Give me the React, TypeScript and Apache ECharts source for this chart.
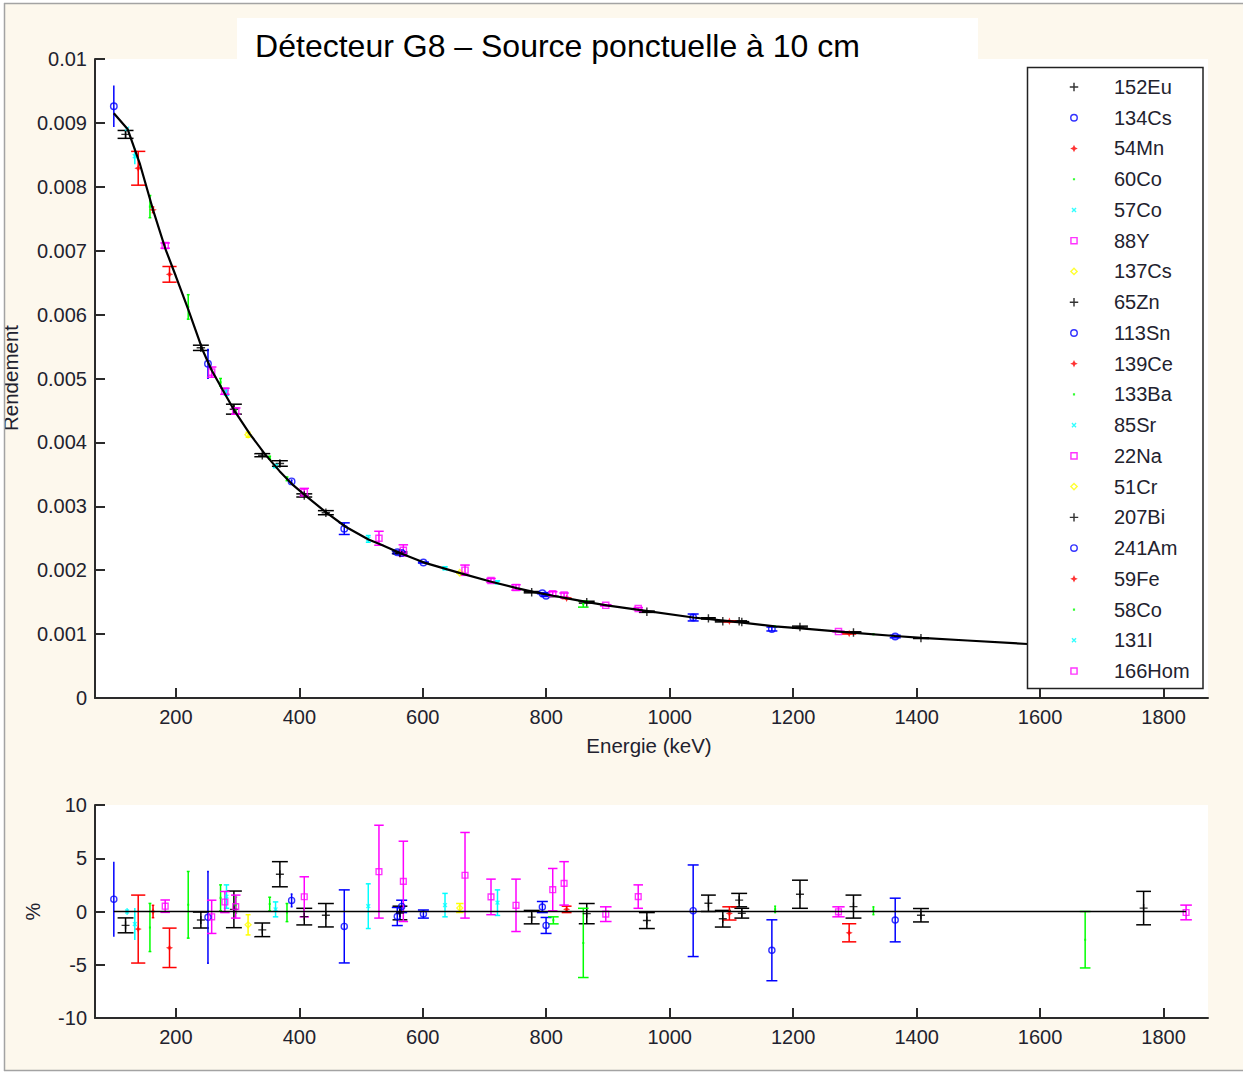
import React, { useEffect, useRef } from "react";
import * as echarts from "echarts";

// [energy keV, efficiency, residual %, uncertainty %]
type Pt = [number, number, number, number];

const nuclideNames = [
  "152Eu", "134Cs", "54Mn", "60Co", "57Co", "88Y", "137Cs", "65Zn", "113Sn", "139Ce",
  "133Ba", "85Sr", "22Na", "51Cr", "207Bi", "241Am", "59Fe", "58Co", "131I", "166Hom",
];

const eu152: Pt[] = [
  [118.5, 0.00882, -1.3, 0.7], [240.5, 0.00548, -0.8, 0.75], [294, 0.00452, 0.2, 1.72],
  [340, 0.0038, -1.72, 0.64], [368.5, 0.00367, 3.5, 1.18], [408, 0.00317, -0.48, 0.78],
  [443, 0.0029, -0.35, 1.1], [776.4, 0.001656, -0.53, 0.63], [865.6, 0.0015, -0.2, 0.95],
  [963, 0.00135, -0.85, 0.75], [1086, 0.0012, -0.68, 0.78], [1112.5, 0.0012, 1.07, 0.63],
  [1211, 0.00111, 1.62, 1.32], [1297.7, 0.001025, 0.46, 1.08], [1407, 0.000937, -0.35, 0.63],
];
const cs134: Pt[] = [
  [472.8, 0.00265, -1.4, 3.43], [558.7, 0.00228, -0.47, 0.85], [565.8, 0.00227, 0.48, 0.58],
  [601, 0.00212, -0.24, 0.38], [793.7, 0.00164, 0.42, 0.52], [799.7, 0.0016, -1.31, 0.75],
  [1038, 0.00126, 0.07, 4.3], [1165.5, 0.00108, -3.64, 2.86], [1365.3, 0.000962, -0.8, 2.05],
];
const mn54: Pt[] = [[833, 0.00156, 0.2, 0.3]];
const co60: Pt[] = [[1170.8, 0.00112, 0.2, 0.3], [1330, 0.000998, 0.07, 0.37]];
const co57: Pt[] = [[121, 0.00891, 0, 0.3], [133.5, 0.00848, -1.18, 1.5]];
const y88: Pt[] = [[896.4, 0.00145, -0.25, 0.69], [1836.5, 0.00073, -0.09, 0.69]];
const cs137: Pt[] = [[660, 0.00196, 0.33, 0.42]];
const zn65: Pt[] = [[1116.8, 0.00119, -0.16, 0.46]];
const sn113: Pt[] = [[252, 0.00523, -0.55, 4.3], [387.5, 0.00339, 1.04, 0.6]];
const ce139: Pt[] = [[163, 0.00764, 0, 0.58]];
const ba133: Pt[] = [
  [158, 0.00769, -1.5, 2.26], [220, 0.00612, 0.63, 3.13], [272.4, 0.00494, 1.28, 1.22],
  [297, 0.0045, 0.6, 0.75], [352, 0.00376, 0.7, 0.64], [380, 0.00343, -0.1, 0.85],
];
const sr85: Pt[] = [[511.7, 0.00249, 0.5, 2.1]];
const na22: Pt[] = [[1273.4, 0.00104, -0.03, 0.47]];
const cr51: Pt[] = [[317, 0.00412, -1.25, 0.95]];
const bi207: Pt[] = [[563, 0.00227, -0.14, 0.64], [1062.7, 0.001246, 0.77, 0.77], [1767.7, 0.000762, 0.32, 1.57]];
const am241: Pt[] = [[99.5, 0.00926, 1.15, 3.52]];
const fe59: Pt[] = [
  [139, 0.00829, -1.65, 3.19], [189.7, 0.00663, -3.41, 1.85], [1096.7, 0.0012, -0.18, 0.62],
  [1290.7, 0.00101, -2.0, 0.85],
];
const co58: Pt[] = [[811.5, 0.00159, -0.83, 0.33], [860, 0.00147, -2.95, 3.25], [1673, 0.000779, -2.65, 2.65]];
const i131: Pt[] = [[282, 0.00479, 1.4, 1.1], [361.5, 0.00363, 0.2, 0.7], [636, 0.00203, 0.6, 1.1], [721, 0.00181, 0.83, 1.2]];
const ho166: Pt[] = [
  [182.7, 0.00708, 0.5, 0.58], [258, 0.0051, -0.5, 1.56], [279.4, 0.0048, 0.89, 0.99],
  [297, 0.00449, 0.46, 1.08], [408, 0.00322, 1.38, 1.88], [529, 0.0025, 3.74, 4.36],
  [568.5, 0.00231, 2.83, 3.77], [668.4, 0.002, 3.4, 4.02], [710.5, 0.00184, 1.37, 1.67],
  [751, 0.00173, 0.58, 2.46], [810.5, 0.00163, 2.05, 1.99], [828.9, 0.00161, 2.64, 2.04],
  [949, 0.0014, 1.4, 1.1],
];

const nuclideData: Pt[][] = [
  eu152, cs134, mn54, co60, co57, y88, cs137, zn65, sn113, ce139,
  ba133, sr85, na22, cr51, bi207, am241, fe59, co58, i131, ho166,
];

// fitted efficiency curve (black line)
const fitEnergy = [
  99.5, 122, 142, 163, 183, 200, 220, 244, 258, 280, 294, 320, 344, 368, 390, 411, 444, 475,
  512, 530, 565, 605, 637, 662, 711, 752, 779, 811, 834, 867, 898, 950, 1038, 1100, 1170,
  1213, 1275, 1300, 1365, 1408, 1482, 1580, 1675, 1770, 1836.5,
];
const fitEff = [
  0.00915, 0.0089, 0.00835, 0.00764, 0.00703, 0.0066, 0.00608, 0.00543, 0.00513, 0.00475,
  0.00451, 0.00413, 0.00382, 0.00355, 0.00333, 0.00316, 0.0029, 0.00268, 0.00248, 0.00241,
  0.00226, 0.00211, 0.00202, 0.00195, 0.00182, 0.00172, 0.00166, 0.0016, 0.00156, 0.0015,
  0.00145, 0.00138, 0.00126, 0.0012, 0.00112, 0.00109, 0.00104, 0.00102, 0.00097, 0.00094,
  0.0009, 0.000845, 0.0008, 0.00076, 0.00073,
];

const xTickValues = [200, 400, 600, 800, 1000, 1200, 1400, 1600, 1800];

// ---- styles ----
const FONT = "'Liberation Sans', Arial, Helvetica, sans-serif";
const TXT = "#22222e";
const AXIS = "#2b2b2b";
const CREAM = "#fdf8ed";
const baseColors = ["#000000", "#0000ff", "#ff0000", "#00ff00", "#00ffff", "#ff00ff", "#ffff00"];
const ANCH = "M0,0L0.01,0L0,0.01Z M10,10L9.99,10L10,9.99Z ";
const baseSymbols = [
  "path://" + ANCH + "M4.2,0.3H5.8V4.2H9.7V5.8H5.8V9.7H4.2V5.8H0.3V4.2H4.2Z",
  "path://" + ANCH + "M0.6,5A4.4,4.4 0 1,0 9.4,5A4.4,4.4 0 1,0 0.6,5Z M2.2,5A2.8,2.8 0 1,1 7.8,5A2.8,2.8 0 1,1 2.2,5Z",
  "path://" + ANCH + "M5,0.8L6.3,3.7L9.2,5L6.3,6.3L5,9.2L3.7,6.3L0.8,5L3.7,3.7Z",
  "path://" + ANCH + "M3.8,3.8H6.2V6.2H3.8Z",
  "path://" + ANCH + "M2.2,3.3L3.3,2.2L5,3.9L6.7,2.2L7.8,3.3L6.1,5L7.8,6.7L6.7,7.8L5,6.1L3.3,7.8L2.2,6.7L3.9,5Z",
  "path://" + ANCH + "M0.8,0.8H9.2V9.2H0.8Z M2.4,2.4V7.6H7.6V2.4Z",
  "path://" + ANCH + "M5,0.4L9.6,5L5,9.6L0.4,5Z M5,2.6L2.6,5L5,7.4L7.4,5Z",
];
const capHalfKeV = [12.9, 8.9, 8, 1.6, 0.2, 9.4, 6, 12, 1.4, 2, 2.3, 4, 10, 4, 12, 0, 11.5, 8.6, 4.4, 7.7];

const colorOf = (k: number) => baseColors[k % 7];
const symbolOf = (k: number) => baseSymbols[k % 7];

function buildOption(): any {
  const errMain: number[][] = [];
  const errRes: number[][] = [];
  nuclideData.forEach((pts, k) => {
    pts.forEach(([e, eff, r, u]) => {
      errMain.push([e, eff * (1 - u / 100), eff * (1 + u / 100), k]);
      errRes.push([e, r - u, r + u, k]);
    });
  });
  const allE = nuclideData.flat().map((p) => p[0]);
  const eMin = Math.min(...allE);
  const eMax = Math.max(...allE);

  const renderErr = (params: any, api: any) => {
    const x = api.value(0);
    const lo = api.value(1);
    const hi = api.value(2);
    const k = api.value(3);
    const top = api.coord([x, hi]);
    const bot = api.coord([x, lo]);
    const c = colorOf(k);
    const cap = api.size([capHalfKeV[k], 0])[0];
    const st = { stroke: c, lineWidth: 1.5 };
    const children: any[] = [
      { type: "line", shape: { x1: top[0], y1: top[1], x2: bot[0], y2: bot[1] }, style: st },
    ];
    if (cap > 0.4) {
      children.push({ type: "line", shape: { x1: top[0] - cap, y1: top[1], x2: top[0] + cap, y2: top[1] }, style: st });
      children.push({ type: "line", shape: { x1: bot[0] - cap, y1: bot[1], x2: bot[0] + cap, y2: bot[1] }, style: st });
    }
    return { type: "group", children };
  };

  const xAxis = (gridIndex: number) => ({
    type: "value",
    gridIndex,
    min: 69,
    max: 1872,
    axisLine: { show: true, onZero: false, lineStyle: { color: AXIS, width: 2 } },
    axisTick: { show: true, inside: true, length: 10, customValues: xTickValues, lineStyle: { color: AXIS, width: 2 } },
    axisLabel: {
      show: true,
      customValues: xTickValues,
      formatter: (v: number) => String(v),
      fontSize: 20,
      fontFamily: FONT,
      color: TXT,
      margin: 9,
    },
    splitLine: { show: false },
  });
  const yAxis = (gridIndex: number, min: number, max: number, interval: number) => ({
    type: "value",
    gridIndex,
    min,
    max,
    interval,
    axisLine: { show: true, onZero: false, lineStyle: { color: AXIS, width: 2 } },
    axisTick: { show: true, inside: true, length: 10, lineStyle: { color: AXIS, width: 2 } },
    axisLabel: { show: true, fontSize: 20, fontFamily: FONT, color: TXT, margin: 8 },
    splitLine: { show: false },
  });

  const series: any[] = [
    {
      type: "custom",
      name: "errMain",
      xAxisIndex: 0,
      yAxisIndex: 0,
      renderItem: renderErr,
      data: errMain,
      encode: { x: 0, y: [1, 2] },
      z: 2,
      silent: true,
    },
    {
      type: "custom",
      name: "errRes",
      xAxisIndex: 1,
      yAxisIndex: 1,
      renderItem: renderErr,
      data: errRes,
      encode: { x: 0, y: [1, 2] },
      z: 2,
      silent: true,
    },
  ];
  nuclideData.forEach((pts, k) => {
    series.push({
      type: "scatter",
      name: nuclideNames[k],
      xAxisIndex: 0,
      yAxisIndex: 0,
      symbol: symbolOf(k),
      symbolSize: 9,
      itemStyle: { color: colorOf(k) },
      data: pts.map((p) => [p[0], p[1]]),
      z: 2,
    });
    series.push({
      type: "scatter",
      name: nuclideNames[k],
      xAxisIndex: 1,
      yAxisIndex: 1,
      symbol: symbolOf(k),
      symbolSize: 8.5,
      itemStyle: { color: colorOf(k) },
      data: pts.map((p) => [p[0], p[2]]),
      z: 2,
    });
  });
  series.push({
    type: "line",
    name: "fit",
    xAxisIndex: 0,
    yAxisIndex: 0,
    data: fitEnergy.map((e, i) => [e, fitEff[i]]),
    showSymbol: false,
    symbol: "none",
    lineStyle: { color: "#000", width: 2.2 },
    z: 3,
    silent: true,
  });
  series.push({
    type: "line",
    name: "zero",
    xAxisIndex: 1,
    yAxisIndex: 1,
    data: [[eMin, 0], [eMax, 0]],
    showSymbol: false,
    symbol: "none",
    lineStyle: { color: "#000", width: 1.5 },
    z: 3,
    silent: true,
  });

  const frame = "#a3a3a3";
  return {
    animation: false,
    backgroundColor: CREAM,
    grid: [
      { left: 95, top: 59, width: 1113, height: 639, show: true, backgroundColor: "#ffffff", borderWidth: 0, containLabel: false },
      { left: 95, top: 805, width: 1113, height: 213, show: true, backgroundColor: "#ffffff", borderWidth: 0, containLabel: false },
    ],
    xAxis: [xAxis(0), xAxis(1)],
    yAxis: [yAxis(0, 0, 0.01, 0.001), yAxis(1, -10, 10, 5)],
    legend: {
      data: nuclideNames,
      orient: "vertical",
      left: 1069.5,
      top: 77,
      padding: 0,
      itemGap: 10.74,
      itemWidth: 70,
      itemHeight: 9,
      symbolKeepAspect: true,
      z: 6,
      textStyle: { fontSize: 20, fontFamily: FONT, color: TXT, lineHeight: 20 },
    },
    graphic: [
      { type: "rect", z: 1, shape: { x: 237, y: 18, width: 741, height: 41 }, style: { fill: "#ffffff" } },
      {
        type: "rect",
        z: 5,
        shape: { x: 1027.5, y: 67.5, width: 175.5, height: 621 },
        style: { fill: "#ffffff", stroke: "#222", lineWidth: 1.5 },
      },
      {
        type: "text",
        z: 10,
        x: 557.5,
        y: 46,
        style: { text: "Détecteur G8 – Source ponctuelle à 10 cm", fontSize: 32, fontFamily: FONT, fill: "#000", textAlign: "center", textVerticalAlign: "middle" },
      },
      {
        type: "text",
        z: 10,
        x: 649,
        y: 745,
        style: { text: "Energie (keV)", fontSize: 20.5, fontFamily: FONT, fill: TXT, textAlign: "center", textVerticalAlign: "middle" },
      },
      {
        type: "text",
        z: 10,
        x: 10,
        y: 378,
        rotation: Math.PI / 2,
        style: { text: "Rendement", fontSize: 20.5, fontFamily: FONT, fill: TXT, textAlign: "center", textVerticalAlign: "middle" },
      },
      {
        type: "text",
        z: 10,
        x: 32.5,
        y: 911.5,
        rotation: Math.PI / 2,
        style: { text: "%", fontSize: 20, fontFamily: FONT, fill: TXT, textAlign: "center", textVerticalAlign: "middle" },
      },
      { type: "rect", z: 100, shape: { x: 0, y: 0, width: 4, height: 1073 }, style: { fill: "#ffffff" } },
      { type: "rect", z: 100, shape: { x: 0, y: 0, width: 1243, height: 3 }, style: { fill: "#ffffff" } },
      { type: "rect", z: 100, shape: { x: 0, y: 1071, width: 1243, height: 2 }, style: { fill: "#ffffff" } },
      { type: "line", z: 101, shape: { x1: 4.5, y1: 3, x2: 4.5, y2: 1071 }, style: { stroke: frame, lineWidth: 1.5 } },
      { type: "line", z: 101, shape: { x1: 4, y1: 3.5, x2: 1243, y2: 3.5 }, style: { stroke: frame, lineWidth: 1.5 } },
      { type: "line", z: 101, shape: { x1: 4, y1: 1070.5, x2: 1243, y2: 1070.5 }, style: { stroke: frame, lineWidth: 1.5 } },
    ],
    series,
  };
}

export default function App() {
  const ref = useRef<HTMLDivElement>(null);
  useEffect(() => {
    if (!ref.current) return;
    const chart = echarts.init(ref.current, undefined, { renderer: "svg" });
    chart.setOption(buildOption());
    return () => {
      chart.dispose();
    };
  }, []);
  return (
    <div
      ref={ref}
      style={{ position: "absolute", left: 0, top: 0, width: 1243, height: 1073 }}
    />
  );
}
